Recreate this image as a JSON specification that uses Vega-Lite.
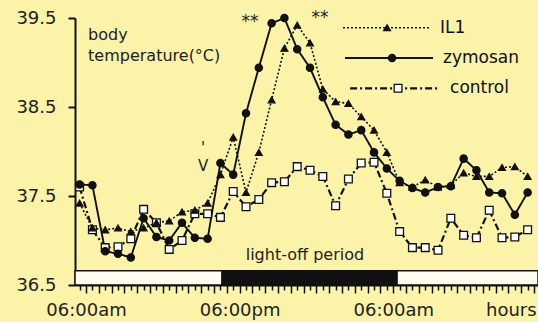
{
  "$schema": "https://vega.github.io/schema/vega-lite/v6.json",
  "width": 463,
  "height": 267,
  "autosize": {"type": "none"},
  "padding": {"left": 75, "top": 18, "right": 0, "bottom": 37},
  "background": "#faf3a8",
  "config": {"view": {"stroke": null}, "font": "DejaVu Sans"},
  "resolve": {"axis": {"x": "independent", "y": "independent"}},
  "datasets": {
    "temps": [
      {"series":"control","hour":5.5,"temp":37.6},{"series":"control","hour":6.5,"temp":37.12},{"series":"control","hour":7.5,"temp":36.92},{"series":"control","hour":8.5,"temp":36.93},{"series":"control","hour":9.5,"temp":37.02},{"series":"control","hour":10.5,"temp":37.35},{"series":"control","hour":11.5,"temp":37.2},{"series":"control","hour":12.5,"temp":36.9},{"series":"control","hour":13.5,"temp":37.0},{"series":"control","hour":14.5,"temp":37.3},{"series":"control","hour":15.5,"temp":37.3},{"series":"control","hour":16.5,"temp":37.26},{"series":"control","hour":17.5,"temp":37.55},{"series":"control","hour":18.5,"temp":37.38},{"series":"control","hour":19.5,"temp":37.46},{"series":"control","hour":20.5,"temp":37.65},{"series":"control","hour":21.5,"temp":37.66},{"series":"control","hour":22.5,"temp":37.83},{"series":"control","hour":23.5,"temp":37.79},{"series":"control","hour":24.5,"temp":37.72},{"series":"control","hour":25.5,"temp":37.39},{"series":"control","hour":26.5,"temp":37.69},{"series":"control","hour":27.5,"temp":37.87},{"series":"control","hour":28.5,"temp":37.88},{"series":"control","hour":29.5,"temp":37.53},{"series":"control","hour":30.5,"temp":37.1},{"series":"control","hour":31.5,"temp":36.92},{"series":"control","hour":32.5,"temp":36.92},{"series":"control","hour":33.5,"temp":36.89},{"series":"control","hour":34.5,"temp":37.25},{"series":"control","hour":35.5,"temp":37.06},{"series":"control","hour":36.5,"temp":37.03},{"series":"control","hour":37.5,"temp":37.34},{"series":"control","hour":38.5,"temp":37.03},{"series":"control","hour":39.5,"temp":37.04},{"series":"control","hour":40.5,"temp":37.12},
      {"series":"IL1","hour":5.5,"temp":37.42},{"series":"IL1","hour":6.5,"temp":37.14},{"series":"IL1","hour":7.5,"temp":37.12},{"series":"IL1","hour":8.5,"temp":37.14},{"series":"IL1","hour":9.5,"temp":37.1},{"series":"IL1","hour":10.5,"temp":37.14},{"series":"IL1","hour":11.5,"temp":37.2},{"series":"IL1","hour":12.5,"temp":37.22},{"series":"IL1","hour":13.5,"temp":37.32},{"series":"IL1","hour":14.5,"temp":37.34},{"series":"IL1","hour":15.5,"temp":37.42},{"series":"IL1","hour":16.5,"temp":37.74},{"series":"IL1","hour":17.5,"temp":38.16},{"series":"IL1","hour":18.5,"temp":37.54},{"series":"IL1","hour":19.5,"temp":37.99},{"series":"IL1","hour":20.5,"temp":38.58},{"series":"IL1","hour":21.5,"temp":39.16},{"series":"IL1","hour":22.5,"temp":39.42},{"series":"IL1","hour":23.5,"temp":39.22},{"series":"IL1","hour":24.5,"temp":38.7},{"series":"IL1","hour":25.5,"temp":38.56},{"series":"IL1","hour":26.5,"temp":38.54},{"series":"IL1","hour":27.5,"temp":38.39},{"series":"IL1","hour":28.5,"temp":38.24},{"series":"IL1","hour":29.5,"temp":37.99},{"series":"IL1","hour":30.5,"temp":37.65},{"series":"IL1","hour":31.5,"temp":37.6},{"series":"IL1","hour":32.5,"temp":37.68},{"series":"IL1","hour":33.5,"temp":37.6},{"series":"IL1","hour":34.5,"temp":37.62},{"series":"IL1","hour":35.5,"temp":37.76},{"series":"IL1","hour":36.5,"temp":37.72},{"series":"IL1","hour":37.5,"temp":37.72},{"series":"IL1","hour":38.5,"temp":37.82},{"series":"IL1","hour":39.5,"temp":37.83},{"series":"IL1","hour":40.5,"temp":37.72},
      {"series":"zymosan","hour":5.5,"temp":37.63},{"series":"zymosan","hour":6.5,"temp":37.62},{"series":"zymosan","hour":7.5,"temp":36.88},{"series":"zymosan","hour":8.5,"temp":36.85},{"series":"zymosan","hour":9.5,"temp":36.81},{"series":"zymosan","hour":10.5,"temp":37.25},{"series":"zymosan","hour":11.5,"temp":37.04},{"series":"zymosan","hour":12.5,"temp":37.0},{"series":"zymosan","hour":13.5,"temp":37.2},{"series":"zymosan","hour":14.5,"temp":37.03},{"series":"zymosan","hour":15.5,"temp":37.02},{"series":"zymosan","hour":16.5,"temp":37.87},{"series":"zymosan","hour":17.5,"temp":37.74},{"series":"zymosan","hour":18.5,"temp":38.43},{"series":"zymosan","hour":19.5,"temp":38.94},{"series":"zymosan","hour":20.5,"temp":39.44},{"series":"zymosan","hour":21.5,"temp":39.5},{"series":"zymosan","hour":22.5,"temp":39.15},{"series":"zymosan","hour":23.5,"temp":38.94},{"series":"zymosan","hour":24.5,"temp":38.61},{"series":"zymosan","hour":25.5,"temp":38.3},{"series":"zymosan","hour":26.5,"temp":38.19},{"series":"zymosan","hour":27.5,"temp":38.24},{"series":"zymosan","hour":28.5,"temp":37.99},{"series":"zymosan","hour":29.5,"temp":37.81},{"series":"zymosan","hour":30.5,"temp":37.67},{"series":"zymosan","hour":31.5,"temp":37.59},{"series":"zymosan","hour":32.5,"temp":37.54},{"series":"zymosan","hour":33.5,"temp":37.6},{"series":"zymosan","hour":34.5,"temp":37.61},{"series":"zymosan","hour":35.5,"temp":37.92},{"series":"zymosan","hour":36.5,"temp":37.79},{"series":"zymosan","hour":37.5,"temp":37.54},{"series":"zymosan","hour":38.5,"temp":37.53},{"series":"zymosan","hour":39.5,"temp":37.29},{"series":"zymosan","hour":40.5,"temp":37.54}
    ],
    "light": [
      {"hour": 5.14, "end": 16.63, "phase": "light"},
      {"hour": 16.63, "end": 30.3, "phase": "dark"},
      {"hour": 30.3, "end": 41.31, "phase": "light"}
    ],
    "legend": [
      {"series": "IL1", "hour": 26.08, "end": 32.88, "marker": 29.52, "labelAt": 33.66, "temp": 39.39},
      {"series": "zymosan", "hour": 26.23, "end": 33.11, "marker": 29.91, "labelAt": 33.89, "temp": 39.05},
      {"series": "control", "hour": 26.63, "end": 33.66, "marker": 30.38, "labelAt": 34.44, "temp": 38.71}
    ]
  },
  "layer": [
    {
      "data": {"name": "light"},
      "mark": {"type": "rect", "stroke": "#111", "strokeWidth": 1.5},
      "encoding": {
        "x": {"field": "hour", "type": "quantitative", "scale": {"domain": [5.14, 41.31], "nice": false, "zero": false},
          "axis": {"orient": "bottom", "title": null, "grid": false, "domain": false,
            "values": [5.5,6.5,7.5,8.5,9.5,10.5,11.5,12.5,13.5,14.5,15.5,16.5,17.5,18.5,19.5,20.5,21.5,22.5,23.5,24.5,25.5,26.5,27.5,28.5,29.5,30.5,31.5,32.5,33.5,34.5,35.5,36.5,37.5,38.5,39.5,40.5],
            "labelExpr": "datum.value === 39.5 ? 'hours' : ''",
            "labelFontSize": 18, "labelColor": "#222", "labelFont": "DejaVu Sans", "labelPadding": 11, "labelOverlap": false, "labelFlush": false, "labelOffset": -4,
            "tickSize": 5, "tickWidth": 1.5, "tickColor": "#111"}},
        "x2": {"field": "end"},
        "y": {"datum": 36.66, "type": "quantitative", "scale": {"domain": [36.5, 39.5], "nice": false, "zero": false}, "axis": null},
        "y2": {"datum": 36.5},
        "color": {"field": "phase", "type": "nominal", "scale": {"domain": ["light", "dark"], "range": ["#fffdf0", "#111111"]}, "legend": null}
      }
    },
    {
      "data": {"name": "temps"},
      "mark": {"type": "line", "color": "#111"},
      "encoding": {
        "x": {"field": "hour", "type": "quantitative", "scale": {"domain": [5.14, 41.31], "nice": false, "zero": false},
          "axis": {"orient": "bottom", "title": null, "grid": false,
            "values": [6,7,8,9,10,11,12,13,14,15,16,17,18,19,20,21,22,23,24,25,26,27,28,29,30,31,32,33,34,35,36,37,38,39,40,41],
            "labelExpr": "datum.value === 6 ? '06:00am' : datum.value === 18 ? '06:00pm' : datum.value === 30 ? '06:00am' : ''",
            "labelFontSize": 18, "labelColor": "#222", "labelFont": "DejaVu Sans", "labelPadding": 8, "labelOverlap": false, "labelFlush": false,
            "tickSize": 8, "tickWidth": 1.5, "tickColor": "#111", "domainColor": "#111", "domainWidth": 2}},
        "y": {"field": "temp", "type": "quantitative", "scale": {"domain": [36.5, 39.5], "nice": false, "zero": false},
          "axis": {"orient": "left", "title": null, "grid": false, "values": [36.5, 37.5, 38.5, 39.5], "format": ".1f",
            "labelFontSize": 18, "labelColor": "#222", "labelFont": "DejaVu Sans", "labelPadding": 12,
            "tickSize": 7, "tickWidth": 2, "tickColor": "#111", "domainColor": "#111", "domainWidth": 2}},
        "detail": {"field": "series", "type": "nominal"},
        "strokeDash": {"field": "series", "type": "nominal", "scale": {"domain": ["IL1", "zymosan", "control"], "range": [[2, 2], [1, 0], [7, 3, 2, 3]]}, "legend": null},
        "strokeWidth": {"field": "series", "type": "nominal", "scale": {"domain": ["IL1", "zymosan", "control"], "range": [1.6, 2.2, 2]}, "legend": null}
      }
    },
    {
      "data": {"name": "legend"},
      "mark": {"type": "rule", "color": "#111"},
      "encoding": {
        "x": {"field": "hour", "type": "quantitative", "scale": {"domain": [5.14, 41.31], "nice": false, "zero": false}, "axis": null},
        "x2": {"field": "end"},
        "y": {"field": "temp", "type": "quantitative", "scale": {"domain": [36.5, 39.5], "nice": false, "zero": false}, "axis": null},
        "strokeDash": {"field": "series", "type": "nominal", "scale": {"domain": ["IL1", "zymosan", "control"], "range": [[2, 2], [1, 0], [7, 3, 2, 3]]}, "legend": null},
        "strokeWidth": {"field": "series", "type": "nominal", "scale": {"domain": ["IL1", "zymosan", "control"], "range": [1.6, 2.2, 2]}, "legend": null}
      }
    },
    {
      "data": {"name": "temps"},
      "mark": {"type": "point", "filled": true, "stroke": "#111", "strokeWidth": 1.3, "opacity": 1},
      "encoding": {
        "x": {"field": "hour", "type": "quantitative", "scale": {"domain": [5.14, 41.31], "nice": false, "zero": false}, "axis": null},
        "y": {"field": "temp", "type": "quantitative", "scale": {"domain": [36.5, 39.5], "nice": false, "zero": false}, "axis": null},
        "shape": {"field": "series", "type": "nominal", "scale": {"domain": ["IL1", "zymosan", "control"], "range": ["triangle-up", "circle", "square"]}, "legend": null},
        "fill": {"field": "series", "type": "nominal", "scale": {"domain": ["IL1", "zymosan", "control"], "range": ["#111111", "#111111", "#ffffff"]}, "legend": null},
        "size": {"field": "series", "type": "nominal", "scale": {"domain": ["IL1", "zymosan", "control"], "range": [45, 60, 65]}, "legend": null}
      }
    },
    {
      "data": {"name": "legend"},
      "mark": {"type": "point", "filled": true, "stroke": "#111", "strokeWidth": 1.3, "opacity": 1},
      "encoding": {
        "x": {"field": "marker", "type": "quantitative", "scale": {"domain": [5.14, 41.31], "nice": false, "zero": false}, "axis": null},
        "y": {"field": "temp", "type": "quantitative", "scale": {"domain": [36.5, 39.5], "nice": false, "zero": false}, "axis": null},
        "shape": {"field": "series", "type": "nominal", "scale": {"domain": ["IL1", "zymosan", "control"], "range": ["triangle-up", "circle", "square"]}, "legend": null},
        "fill": {"field": "series", "type": "nominal", "scale": {"domain": ["IL1", "zymosan", "control"], "range": ["#111111", "#111111", "#ffffff"]}, "legend": null},
        "size": {"field": "series", "type": "nominal", "scale": {"domain": ["IL1", "zymosan", "control"], "range": [45, 60, 65]}, "legend": null}
      }
    },
    {
      "data": {"name": "legend"},
      "mark": {"type": "text", "align": "left", "baseline": "middle", "fontSize": 17, "font": "DejaVu Sans", "fill": "#111"},
      "encoding": {
        "x": {"field": "labelAt", "type": "quantitative", "scale": {"domain": [5.14, 41.31], "nice": false, "zero": false}, "axis": null},
        "y": {"field": "temp", "type": "quantitative", "scale": {"domain": [36.5, 39.5], "nice": false, "zero": false}, "axis": null},
        "text": {"field": "series", "type": "nominal"}
      }
    },
    {
      "data": {"values": [{}]},
      "mark": {"type": "text", "text": "body", "align": "left", "baseline": "middle", "fontSize": 16, "font": "DejaVu Sans", "fill": "#222"},
      "encoding": {
        "x": {"datum": 6.16, "type": "quantitative", "scale": {"domain": [5.14, 41.31], "nice": false, "zero": false}, "axis": null},
        "y": {"datum": 39.31, "type": "quantitative", "scale": {"domain": [36.5, 39.5], "nice": false, "zero": false}, "axis": null}
      }
    },
    {
      "data": {"values": [{}]},
      "mark": {"type": "text", "text": "temperature(°C)", "align": "left", "baseline": "middle", "fontSize": 16, "font": "DejaVu Sans", "fill": "#222"},
      "encoding": {
        "x": {"datum": 6.16, "type": "quantitative", "scale": {"domain": [5.14, 41.31], "nice": false, "zero": false}, "axis": null},
        "y": {"datum": 39.07, "type": "quantitative", "scale": {"domain": [36.5, 39.5], "nice": false, "zero": false}, "axis": null}
      }
    },
    {
      "data": {"values": [{}]},
      "mark": {"type": "text", "text": "**", "align": "center", "baseline": "middle", "fontSize": 17, "font": "DejaVu Sans", "fill": "#222"},
      "encoding": {
        "x": {"datum": 18.81, "type": "quantitative", "scale": {"domain": [5.14, 41.31], "nice": false, "zero": false}, "axis": null},
        "y": {"datum": 39.45, "type": "quantitative", "scale": {"domain": [36.5, 39.5], "nice": false, "zero": false}, "axis": null}
      }
    },
    {
      "data": {"values": [{}]},
      "mark": {"type": "text", "text": "**", "align": "center", "baseline": "middle", "fontSize": 17, "font": "DejaVu Sans", "fill": "#222"},
      "encoding": {
        "x": {"datum": 24.28, "type": "quantitative", "scale": {"domain": [5.14, 41.31], "nice": false, "zero": false}, "axis": null},
        "y": {"datum": 39.5, "type": "quantitative", "scale": {"domain": [36.5, 39.5], "nice": false, "zero": false}, "axis": null}
      }
    },
    {
      "data": {"values": [{}]},
      "mark": {"type": "text", "text": "V", "align": "center", "baseline": "middle", "fontSize": 15, "font": "DejaVu Sans", "fill": "#222"},
      "encoding": {
        "x": {"datum": 15.14, "type": "quantitative", "scale": {"domain": [5.14, 41.31], "nice": false, "zero": false}, "axis": null},
        "y": {"datum": 37.84, "type": "quantitative", "scale": {"domain": [36.5, 39.5], "nice": false, "zero": false}, "axis": null}
      }
    },
    {
      "data": {"values": [{}]},
      "mark": {"type": "text", "text": "'", "align": "center", "baseline": "middle", "fontSize": 15, "font": "DejaVu Sans", "fill": "#222"},
      "encoding": {
        "x": {"datum": 15.14, "type": "quantitative", "scale": {"domain": [5.14, 41.31], "nice": false, "zero": false}, "axis": null},
        "y": {"datum": 38.04, "type": "quantitative", "scale": {"domain": [36.5, 39.5], "nice": false, "zero": false}, "axis": null}
      }
    },
    {
      "data": {"values": [{}]},
      "mark": {"type": "text", "text": "light-off period", "align": "center", "baseline": "middle", "fontSize": 16, "font": "DejaVu Sans", "fill": "#222"},
      "encoding": {
        "x": {"datum": 23.1, "type": "quantitative", "scale": {"domain": [5.14, 41.31], "nice": false, "zero": false}, "axis": null},
        "y": {"datum": 36.84, "type": "quantitative", "scale": {"domain": [36.5, 39.5], "nice": false, "zero": false}, "axis": null}
      }
    }
  ]
}
